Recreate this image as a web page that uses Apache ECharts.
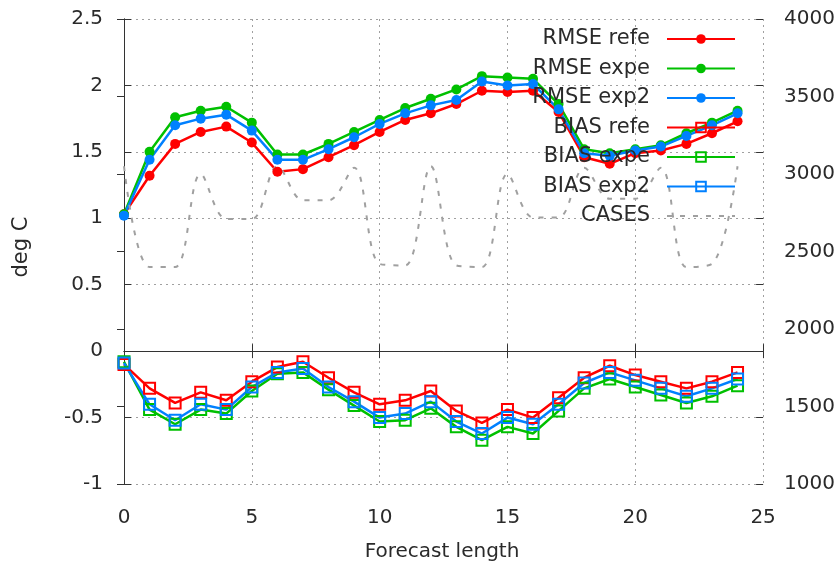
<!DOCTYPE html>
<html>
<head>
<meta charset="utf-8">
<script src="https://cdn.jsdelivr.net/npm/echarts@6/dist/echarts.min.js"></script>
<style>
  html, body { margin: 0; padding: 0; background: #fff; }
  #chart { width: 838px; height: 569px; }
</style>
</head>
<body>
<div id="chart"></div>
<script>
// Forecast verification: RMSE / BIAS per experiment (deg C) and number of cases.

var steps = [0, 1, 2, 3, 4, 5, 6, 7, 8, 9, 10, 11, 12, 13, 14, 15, 16, 17, 18, 19, 20, 21, 22, 23, 24];

var rmseRefe = [1.03, 1.32, 1.56, 1.65, 1.69, 1.57, 1.35, 1.37, 1.46, 1.55, 1.65, 1.74, 1.79,
                1.86, 1.96, 1.95, 1.96, 1.80, 1.46, 1.41, 1.49, 1.51, 1.56, 1.64, 1.73];
var rmseExpe = [1.03, 1.50, 1.76, 1.81, 1.84, 1.72, 1.48, 1.48, 1.56, 1.65, 1.74, 1.83, 1.90,
                1.97, 2.07, 2.06, 2.05, 1.86, 1.52, 1.49, 1.52, 1.55, 1.64, 1.72, 1.81];
var rmseExp2 = [1.02, 1.44, 1.70, 1.75, 1.78, 1.66, 1.44, 1.44, 1.52, 1.61, 1.71, 1.79, 1.85,
                1.89, 2.03, 2.00, 2.01, 1.82, 1.49, 1.47, 1.51, 1.54, 1.62, 1.70, 1.79];

var biasRefe = [-0.10, -0.28, -0.39, -0.31, -0.37, -0.23, -0.12, -0.08, -0.20, -0.31, -0.40, -0.37, -0.30,
                -0.45, -0.54, -0.44, -0.50, -0.35, -0.20, -0.11, -0.18, -0.23, -0.28, -0.23, -0.16];
var biasExpe = [-0.08, -0.44, -0.55, -0.44, -0.47, -0.30, -0.17, -0.16, -0.29, -0.41, -0.53, -0.52, -0.43,
                -0.57, -0.67, -0.57, -0.62, -0.45, -0.28, -0.21, -0.27, -0.33, -0.39, -0.34, -0.26];
var biasExp2 = [-0.09, -0.40, -0.52, -0.40, -0.44, -0.27, -0.16, -0.13, -0.27, -0.38, -0.50, -0.47, -0.38,
                -0.53, -0.62, -0.50, -0.55, -0.40, -0.24, -0.16, -0.22, -0.28, -0.34, -0.28, -0.21];

var cases = [3050, 2400, 2400, 3000, 2710, 2710, 3050, 2830, 2830, 3040, 2420, 2410, 3050,
             2410, 2400, 3000, 2720, 2720, 3040, 2840, 2840, 3040, 2400, 2420, 3050];

var FONT = "'DejaVu Sans', sans-serif";
var TEXT = "#2a2a2a";
var RED = "#ff0000", GREEN = "#00c000", BLUE = "#0080ff", GRAY = "#a0a0a0";

function pairs(ys) {
  return steps.map(function (x, i) { return [x, ys[i]]; });
}

function rmseSeries(name, ys, color) {
  return {
    name: name, type: "line", data: pairs(ys), yAxisIndex: 0,
    symbol: "circle", symbolSize: 10,
    itemStyle: { color: color },
    lineStyle: { color: color, width: 2.5 }
  };
}

function biasSeries(name, ys, color) {
  return {
    name: name, type: "line", data: pairs(ys), yAxisIndex: 0,
    symbol: "rect", symbolSize: 11,
    itemStyle: { color: "rgba(255,255,255,0)", borderColor: color, borderWidth: 2 },
    lineStyle: { color: color, width: 2.5 }
  };
}

var gridLine = { show: true, lineStyle: { color: GRAY, type: [2, 4], width: 1 } };
var axisLine = { show: true, lineStyle: { color: "#333", width: 1 } };
var inTick = { show: true, inside: true, length: 7, lineStyle: { color: "#333" } };
var label = { color: TEXT, fontSize: 20, fontFamily: FONT };

var chart = echarts.init(document.getElementById("chart"));
chart.setOption({
  animation: false,
  backgroundColor: "#fff",
  grid: { left: 124, right: 74, top: 19, bottom: 85 },
  xAxis: [
    {
      type: "value", min: 0, max: 25, interval: 5, position: "bottom",
      axisLine: axisLine, axisTick: inTick, splitLine: gridLine,
      axisLabel: Object.assign({ margin: 24 }, label)
    },
    {
      type: "value", min: 0, max: 25, interval: 5, position: "top",
      axisLine: axisLine, axisTick: inTick, splitLine: { show: false },
      axisLabel: { show: false }
    }
  ],
  yAxis: [
    {
      type: "value", min: -1, max: 2.5, interval: 0.5, position: "left",
      axisLine: axisLine, axisTick: inTick, splitLine: gridLine,
      axisLabel: Object.assign({ margin: 21 }, label)
    },
    {
      type: "value", min: 1000, max: 4000, interval: 500, position: "right",
      axisLine: axisLine, axisTick: inTick, splitLine: { show: false },
      axisLabel: Object.assign({ margin: 21, formatter: function (v) { return String(v); } }, label)
    },
    {
      // mirrored left-axis ticks on the right border
      type: "value", min: -1, max: 2.5, interval: 0.5, position: "right",
      axisLine: { show: false }, axisTick: inTick, splitLine: { show: false },
      axisLabel: { show: false }
    }
  ],
  legend: {
    orient: "vertical", right: 102, top: 28, align: "right", padding: 0,
    itemWidth: 68, itemHeight: 12, itemGap: 7.5,
    textStyle: { color: TEXT, fontSize: 21, fontFamily: FONT, lineHeight: 22, padding: [0, 12, 0, 0] },
    data: ["RMSE refe", "RMSE expe", "RMSE exp2", "BIAS refe", "BIAS expe", "BIAS exp2",
           { name: "CASES", itemStyle: { color: "rgba(0,0,0,0)", borderWidth: 0 } }]
  },
  graphic: [
    {
      type: "text", x: 22, y: 247, rotation: Math.PI / 2,
      style: { text: "deg C", fill: TEXT, font: "21px " + FONT, textAlign: "center", textVerticalAlign: "middle" }
    },
    {
      type: "text", x: 442, y: 552,
      style: { text: "Forecast length", fill: TEXT, font: "20px " + FONT, textAlign: "center", textVerticalAlign: "middle" }
    }
  ],
  series: [
    rmseSeries("RMSE refe", rmseRefe, RED),
    rmseSeries("RMSE expe", rmseExpe, GREEN),
    rmseSeries("RMSE exp2", rmseExp2, BLUE),
    biasSeries("BIAS refe", biasRefe, RED),
    biasSeries("BIAS expe", biasExpe, GREEN),
    biasSeries("BIAS exp2", biasExp2, BLUE),
    {
      name: "CASES", type: "line", data: pairs(cases), yAxisIndex: 1,
      symbol: "none", smooth: 0.35,
      itemStyle: { color: GRAY },
      lineStyle: { color: GRAY, width: 2, type: [5, 8] }
    }
  ]
});
</script>
</body>
</html>
